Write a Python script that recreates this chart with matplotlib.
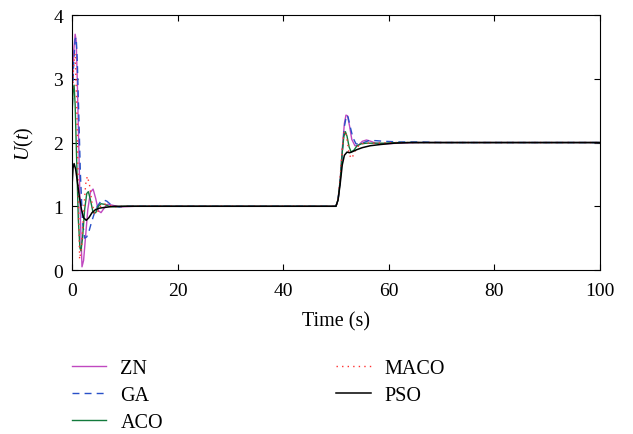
import matplotlib
matplotlib.use("Agg")
import matplotlib.pyplot as plt

# control signal U(t)
zn_t = [0, 0.3, 0.6, 0.8, 1.0, 1.3, 1.6, 1.9, 2.2, 2.6, 3.0, 3.5, 4.0, 4.5, 5.0, 5.5,
        6.0, 6.7, 7.5, 9, 12, 15, 50, 50.4, 50.8, 51.2, 51.6, 51.9, 52.2, 52.6, 53.0,
        53.6, 54.2, 55.0, 55.8, 56.6, 57.5, 59, 62, 66, 70, 100]
zn_u = [2.7, 3.4, 3.7, 3.6, 3.0, 1.9, 0.8, 0.05, 0.15, 0.55, 0.95, 1.22, 1.27, 1.12, 0.93,
        0.9, 0.96, 1.03, 1.02, 0.99, 1.0, 1.0, 1.0, 1.1, 1.4, 1.9, 2.3, 2.43, 2.42, 2.25,
        2.05, 1.95, 1.95, 2.02, 2.04, 2.02, 1.99, 1.98, 1.99, 2.0, 2.0, 2.0]

ga_t = [0, 0.3, 0.6, 0.8, 1.0, 1.3, 1.6, 2.0, 2.4, 2.8, 3.2, 3.7, 4.2, 4.8, 5.4, 6.0,
        6.6, 7.3, 8, 9, 10, 12, 15, 50, 50.4, 50.8, 51.2, 51.6, 52.0, 52.3, 52.7, 53.2,
        53.8, 54.5, 55.3, 56.2, 57.5, 59, 62, 66, 70, 75, 100]
ga_u = [2.4, 3.2, 3.62, 3.65, 3.3, 2.4, 1.5, 0.75, 0.5, 0.52, 0.6, 0.75, 0.88, 1.0, 1.07,
        1.1, 1.08, 1.03, 1.0, 0.99, 1.0, 1.0, 1.0, 1.0, 1.1, 1.4, 1.85, 2.25, 2.43, 2.4,
        2.25, 2.08, 1.98, 1.97, 2.0, 2.03, 2.03, 2.02, 2.01, 2.01, 2.0, 2.0, 2.0]

aco_t = [0, 0.2, 0.4, 0.6, 0.9, 1.2, 1.5, 1.7, 2.0, 2.4, 2.8, 3.1, 3.5, 4.0, 4.5, 5.0,
         5.5, 6.2, 7, 8, 10, 15, 50, 50.4, 50.8, 51.2, 51.5, 51.8, 52.1, 52.5, 52.9,
         53.4, 54.0, 54.8, 55.8, 57, 59, 62, 66, 100]
aco_u = [2.4, 2.8, 2.9, 2.6, 1.7, 0.8, 0.35, 0.3, 0.5, 0.95, 1.2, 1.23, 1.1, 0.9, 0.9,
         1.0, 1.04, 1.03, 1.0, 0.99, 1.0, 1.0, 1.0, 1.1, 1.4, 1.85, 2.1, 2.17, 2.1, 1.93,
         1.85, 1.88, 1.95, 1.98, 1.99, 1.99, 1.99, 2.0, 2.0, 2.0]

maco_t = [0, 0.3, 0.6, 0.9, 1.2, 1.45, 1.8, 2.2, 2.6, 2.9, 3.3, 3.8, 4.3, 4.8, 5.4, 6.0,
          6.8, 8, 10, 15, 50, 50.4, 50.8, 51.2, 51.5, 51.8, 52.1, 52.5, 52.9, 53.3, 53.8,
          54.5, 55.3, 56.5, 58, 61, 65, 100]
maco_u = [2.5, 3.2, 3.4, 2.6, 1.2, 0.17, 0.35, 0.9, 1.35, 1.47, 1.35, 1.05, 0.88, 0.9,
          1.0, 1.04, 1.02, 0.99, 1.0, 1.0, 1.0, 1.1, 1.45, 1.9, 2.15, 2.18, 2.05, 1.82,
          1.75, 1.8, 1.9, 1.97, 1.99, 1.99, 1.99, 2.0, 2.0, 2.0]

pso_t = [0, 0.2, 0.4, 0.7, 1.0, 1.4, 1.8, 2.2, 2.7, 3.2, 3.8, 4.5, 5.2, 6, 7, 8, 10, 15,
         50, 50.4, 50.8, 51.2, 51.6, 52.1, 52.6, 53.2, 54, 55, 56.5, 58.5, 61, 64, 68, 100]
pso_u = [1.3, 1.6, 1.67, 1.58, 1.4, 1.15, 0.95, 0.82, 0.78, 0.82, 0.9, 0.95, 0.97, 0.98,
         0.99, 1.0, 1.0, 1.0, 1.0, 1.1, 1.35, 1.65, 1.8, 1.85, 1.84, 1.86, 1.89, 1.92,
         1.95, 1.97, 1.99, 2.0, 2.0, 2.0]

x_ticks = [0, 20, 40, 60, 80, 100]
y_ticks = [0, 1, 2, 3, 4]

plt.rcParams["font.family"] = "Liberation Serif"
plt.rcParams["mathtext.fontset"] = "custom"
plt.rcParams["mathtext.rm"] = "Liberation Serif"
plt.rcParams["mathtext.it"] = "Liberation Serif:italic"

fig = plt.figure(figsize=(6.33, 4.35), dpi=100)
ax = fig.add_axes([0.1137, 0.377, 0.834, 0.586])

ax.plot(zn_t, zn_u, color="#c048c0", lw=1.0, label="ZN")
ax.plot(ga_t, ga_u, color="#2850c8", lw=1.0, ls=(0, (5, 3.7)), label="GA")
ax.plot(aco_t, aco_u, color="#127a3c", lw=1.0, label="ACO")
ax.plot(maco_t, maco_u, color="#ff3030", lw=1.0, ls=(0, (1, 3)), label="MACO")
ax.plot(pso_t, pso_u, color="black", lw=1.1, label="PSO")

ax.set_xlim(0, 100)
ax.set_ylim(0, 4)
ax.set_xticks(x_ticks)
ax.set_yticks(y_ticks)
ax.tick_params(direction="in", top=True, right=True, labelsize=14, length=4)
ax.tick_params(axis="x", pad=8.5)
ax.tick_params(axis="y", pad=6.5)
ax.set_xlabel("Time (s)", fontsize=14.5, labelpad=9)
ax.set_ylabel("$U(t)$", fontsize=14.5, labelpad=12)

fig.legend(loc="upper left", bbox_to_anchor=(0.0853, 0.215), ncol=2, frameon=False,
           fontsize=14.5, handlelength=1.7, handletextpad=0.7,
           columnspacing=8.6, labelspacing=0.41)

fig.savefig("out.png", dpi=100)
